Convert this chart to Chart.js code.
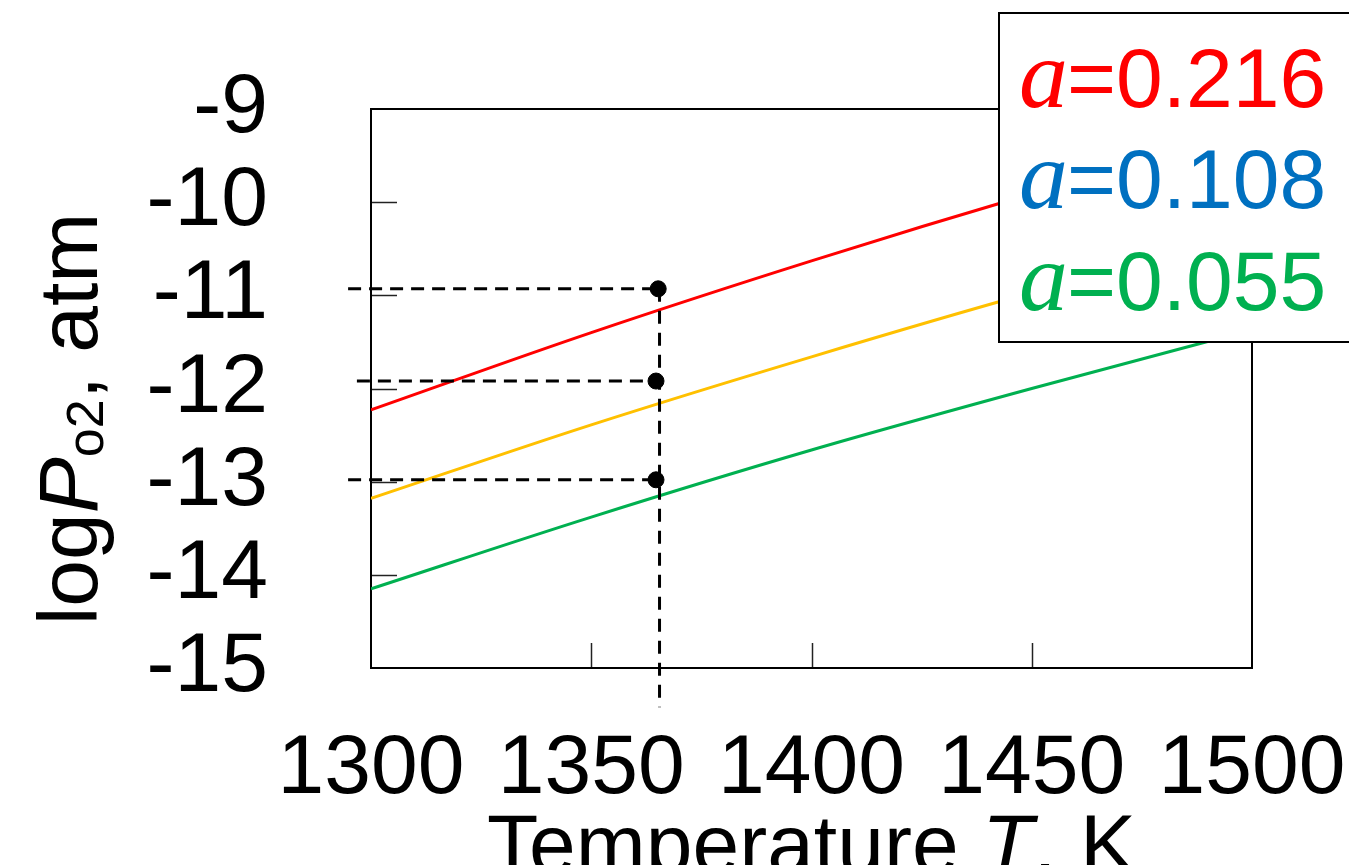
<!DOCTYPE html>
<html>
<head>
<meta charset="utf-8">
<script src="https://cdn.jsdelivr.net/npm/chart.js@4.4.0/dist/chart.umd.min.js"></script>
<style>
  html, body { margin: 0; padding: 0; background: #fff; }
  #wrap { width: 1349px; height: 865px; position: relative; }
</style>
</head>
<body>
<div id="wrap"><canvas id="chart"></canvas></div>
<script>
// values (log P_o2 in atm against T in K)
const temps = [1300, 1350, 1400, 1450, 1500];
const redVals = [-12.23, -11.40, -10.63, -9.91, -9.24];
const yellowVals = [-13.18, -12.39, -11.66, -10.97, -10.34];
const greenVals = [-14.15, -13.38, -12.66, -12.00, -11.37];

const alphas = ['0.216', '0.108', '0.055'];
const lineColors = ['#ff0000', '#ffc000', '#00b050'];
const legendColors = ['#ff0000', '#0070c0', '#00b050'];

// read-off markers at T ~ 1365 K
const dotTemps = [1365.2, 1364.7, 1364.7];
const dotVals = [-10.93, -11.92, -12.98];
const guideStartTemps = [1294.8, 1296.8, 1294.8];
const guideTemp = 1365.5;
const guideBottom = -15.42;

const xTicks = [1300, 1350, 1400, 1450, 1500];
const yTicks = [-15, -14, -13, -12, -11, -10, -9];

const FONT = '"Liberation Sans", Arial, sans-serif';
const SERIF = '"Liberation Serif", "Times New Roman", serif';
const FS = 84;

function series(vals) {
    return temps.map((t, i) => ({ x: t, y: vals[i] }));
}

const datasets = [];

// dots on top
datasets.push({
    type: 'scatter',
    data: dotTemps.map((t, i) => ({ x: t, y: dotVals[i] })),
    backgroundColor: '#000',
    borderColor: '#000',
    pointRadius: 8,
    clip: false,
    order: 0
});

// dashed guides
guideStartTemps.forEach((t, i) => {
    datasets.push({
        data: [{ x: t, y: dotVals[i] }, { x: dotTemps[i], y: dotVals[i] }],
        borderColor: '#000',
        borderWidth: 3,
        borderDash: [13, 8],
        pointRadius: 0,
        clip: false,
        order: 1
    });
});
datasets.push({
    data: [{ x: guideTemp, y: dotVals[0] }, { x: guideTemp, y: guideBottom }],
    borderColor: '#000',
    borderWidth: 3,
    borderDash: [13, 9],
    pointRadius: 0,
    clip: false,
    order: 1
});

[redVals, yellowVals, greenVals].forEach((vals, i) => {
    datasets.push({
        label: 'a=' + alphas[i],
        data: series(vals),
        borderColor: lineColors[i],
        borderWidth: 3,
        pointRadius: 0,
        cubicInterpolationMode: 'monotone',
        order: 2
    });
});

// keep the plot box where the layout padding puts it
function noPad(s) {
    s.paddingLeft = 0; s.paddingRight = 0; s.paddingTop = 0; s.paddingBottom = 0;
}

// frame + inward ticks
const framePlugin = {
    id: 'frame',
    beforeDatasetsDraw(chart) {
        const { ctx, chartArea: a, scales } = chart;
        ctx.save();
        ctx.strokeStyle = '#222';
        ctx.lineWidth = 1.5;
        yTicks.slice(1, -1).forEach(v => {
            const py = Math.round(scales.y.getPixelForValue(v)) + 0.5;
            ctx.beginPath();
            ctx.moveTo(a.left, py);
            ctx.lineTo(a.left + 26, py);
            ctx.stroke();
        });
        xTicks.slice(1, -1).forEach(v => {
            const px = Math.round(scales.x.getPixelForValue(v)) + 0.5;
            ctx.beginPath();
            ctx.moveTo(px, a.bottom);
            ctx.lineTo(px, a.bottom - 25);
            ctx.stroke();
        });
        ctx.strokeStyle = '#000';
        ctx.lineWidth = 2;
        ctx.strokeRect(a.left, a.top, a.right - a.left, a.bottom - a.top);
        ctx.restore();
    }
};

const legendPlugin = {
    id: 'legendBox',
    afterDatasetsDraw(chart) {
        const ctx = chart.ctx;
        ctx.save();
        ctx.fillStyle = '#fff';
        ctx.fillRect(999, 13, 380, 329);
        ctx.strokeStyle = '#000';
        ctx.lineWidth = 2;
        ctx.strokeRect(999, 13, 380, 329);
        ctx.textBaseline = 'alphabetic';
        const baselines = [107, 208, 310];
        alphas.forEach((v, i) => {
            ctx.fillStyle = legendColors[i];
            ctx.font = 'italic 98px ' + SERIF;
            ctx.fillText('a', 1019, baselines[i]);
            ctx.font = FS + 'px ' + FONT;
            ctx.fillText('=' + v, 1067, baselines[i]);
        });
        ctx.restore();
    }
};

const titlePlugin = {
    id: 'titles',
    afterDraw(chart) {
        const { ctx, chartArea: a } = chart;
        ctx.save();
        ctx.fillStyle = '#000';
        ctx.textBaseline = 'alphabetic';

        // x title: Temperature T, K
        const parts = [
            ['Temperature ', FS + 'px ' + FONT],
            ['T', 'italic ' + FS + 'px ' + FONT],
            [', K', FS + 'px ' + FONT]
        ];
        let total = 0;
        parts.forEach(p => { ctx.font = p[1]; total += ctx.measureText(p[0]).width; });
        let x = (a.left + a.right) / 2 - total / 2;
        parts.forEach(p => {
            ctx.font = p[1];
            ctx.fillText(p[0], x, 873);
            x += ctx.measureText(p[0]).width;
        });

        // y title: logP_o2, atm (rotated)
        const yParts = [
            ['log', FS + 'px ' + FONT, 0],
            ['P', 'italic ' + FS + 'px ' + FONT, 0],
            ['o2', '52px ' + FONT, 6],
            [', atm', FS + 'px ' + FONT, 0]
        ];
        total = 0;
        yParts.forEach(p => { ctx.font = p[1]; total += ctx.measureText(p[0]).width; });
        ctx.translate(97, 419);
        ctx.rotate(-Math.PI / 2);
        x = -total / 2;
        yParts.forEach(p => {
            ctx.font = p[1];
            ctx.fillText(p[0], x, p[2]);
            x += ctx.measureText(p[0]).width;
        });
        ctx.restore();
    }
};

new Chart(document.getElementById('chart'), {
    type: 'line',
    data: { datasets: datasets },
    options: {
        responsive: true,
        maintainAspectRatio: false,
        animation: false,
        layout: { padding: { top: 109, right: 97, left: 0, bottom: 0 } },
        plugins: { legend: { display: false }, tooltip: { enabled: false } },
        scales: {
            x: {
                type: 'linear',
                min: 1300,
                max: 1500,
                afterBuildTicks: s => { s.ticks = xTicks.map(v => ({ value: v })); },
                afterFit: s => { s.height = 197; noPad(s); },
                grid: { display: false, drawTicks: false },
                border: { display: false },
                ticks: { color: '#000', padding: 51, maxRotation: 0, autoSkip: false,
                         font: { family: FONT, size: FS }, callback: v => String(v) }
            },
            y: {
                min: -15,
                max: -9,
                afterBuildTicks: s => { s.ticks = yTicks.map(v => ({ value: v })); },
                afterFit: s => { s.width = 371; noPad(s); },
                grid: { display: false, drawTicks: false },
                border: { display: false },
                ticks: { color: '#000', padding: 103, autoSkip: false,
                         font: { family: FONT, size: FS }, callback: v => String(v) }
            }
        }
    },
    plugins: [framePlugin, legendPlugin, titlePlugin]
});
</script>
</body>
</html>
